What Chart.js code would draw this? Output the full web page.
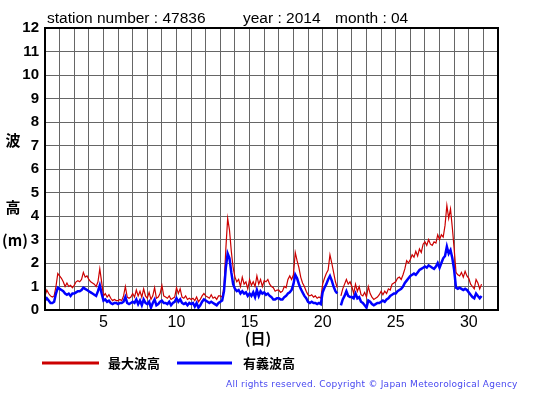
<!DOCTYPE html>
<html>
<head>
<meta charset="utf-8">
<script src="https://cdn.jsdelivr.net/npm/chart.js@4.4.1/dist/chart.umd.min.js"></script>
<style>
  html, body { margin: 0; padding: 0; background: #fff; }
</style>
</head>
<body>
<canvas id="waveChart" width="555" height="395"></canvas>
<script>
// header info
const stationNo = '47836';
const yearStr = '2014';
const monthStr = '04';

// 3-hourly samples, 8 per day, day 1 00h .. day 30 21h
const slotsPerDay = 8;
const dayLabels = [5, 10, 15, 20, 25, 30];
const yTicks = [0, 1, 2, 3, 4, 5, 6, 7, 8, 9, 10, 11, 12];

// 最大波高 (m)
const maxWave = [
  0.6, 0.85, 0.7, 0.6, 0.55, 0.6, 1.0, 1.55,     // 1
  1.45, 1.35, 1.2, 1.0, 1.15, 1.0, 1.05, 0.95,   // 2
  1.05, 1.2, 1.25, 1.2, 1.3, 1.6, 1.4, 1.45,     // 3
  1.3, 1.2, 1.15, 1.1, 1.0, 1.2, 1.75, 1.2,      // 4
  0.6, 0.7, 0.55, 0.65, 0.5, 0.4, 0.45, 0.4,     // 5
  0.4, 0.45, 0.4, 0.6, 1.0, 0.55, 0.5, 0.55,     // 6
  0.7, 0.55, 0.85, 0.6, 0.8, 0.55, 0.9, 0.6,     // 7
  0.5, 0.75, 0.45, 0.6, 0.95, 0.5, 0.55, 0.7,    // 8
  1.05, 0.6, 0.55, 0.5, 0.6, 0.45, 0.5, 0.55,    // 9
  0.95, 0.7, 0.9, 0.55, 0.5, 0.6, 0.45, 0.5,     // 10
  0.45, 0.5, 0.4, 0.55, 0.35, 0.45, 0.6, 0.7,    // 11
  0.6, 0.55, 0.5, 0.65, 0.5, 0.55, 0.45, 0.6,    // 12
  0.6, 0.55, 1.0, 2.6, 3.9, 3.4, 2.5, 1.8,       // 13
  1.4, 1.2, 1.3, 1.0, 1.4, 1.1, 1.2, 0.9,        // 14
  1.3, 1.05, 1.2, 1.0, 1.45, 1.1, 1.3, 1.0,      // 15
  1.25, 1.2, 1.3, 1.1, 1.0, 0.95, 0.8, 0.85,     // 16
  0.85, 0.75, 0.8, 1.0, 0.95, 1.3, 1.45, 1.3,    // 17
  1.5, 2.45, 2.1, 1.8, 1.4, 1.15, 1.0, 0.8,      // 18
  0.65, 0.6, 0.65, 0.55, 0.6, 0.5, 0.55, 0.5,    // 19
  1.1, 1.35, 1.55, 1.7, 2.35, 2.0, 1.6, 1.2,     // 20
  0.95, null, 0.6, 0.9, 1.1, 1.3, 1.1, 1.2,      // 21
  1.0, 0.7, 1.1, 0.8, 1.0, 0.65, 0.6, 0.75,      // 22
  0.55, 1.0, 0.7, 0.55, 0.45, 0.5, 0.55, 0.65,   // 23
  0.8, 0.65, 0.8, 0.7, 0.9, 0.85, 1.1, 1.15,     // 24
  1.2, 1.35, 1.4, 1.3, 1.5, 1.75, 2.1, 2.0,      // 25
  2.15, 2.35, 2.25, 2.5, 2.3, 2.6, 2.45, 2.8,    // 26
  2.9, 2.75, 3.0, 2.8, 2.75, 2.9, 2.85, 3.2,     // 27
  3.0, 3.2, 3.1, 3.6, 4.45, 3.9, 4.3, 3.5,       // 28
  2.6, 1.6, 1.5, 1.45, 1.6, 1.4, 1.65, 1.45,     // 29
  1.35, 1.1, 1.0, 0.9, 1.3, 1.15, 0.9, 1.1       // 30
];

// 有義波高 (m)
const sigWave = [
  0.4, 0.5, 0.4, 0.3, 0.3, 0.35, 0.7, 0.95,      // 1
  0.9, 0.85, 0.8, 0.7, 0.65, 0.7, 0.6, 0.7,      // 2
  0.7, 0.75, 0.8, 0.8, 0.85, 0.95, 0.9, 0.85,    // 3
  0.8, 0.75, 0.7, 0.65, 0.6, 0.8, 1.05, 0.7,     // 4
  0.4, 0.45, 0.35, 0.4, 0.3, 0.25, 0.3, 0.3,     // 5
  0.25, 0.3, 0.3, 0.35, 0.55, 0.3, 0.25, 0.3,    // 6
  0.35, 0.3, 0.45, 0.25, 0.4, 0.2, 0.45, 0.3,    // 7
  0.25, 0.35, 0.1, 0.3, 0.45, 0.2, 0.25, 0.35,   // 8
  0.4, 0.3, 0.3, 0.25, 0.35, 0.2, 0.3, 0.35,     // 9
  0.5, 0.35, 0.45, 0.3, 0.25, 0.3, 0.2, 0.3,     // 10
  0.25, 0.3, 0.15, 0.3, 0.1, 0.2, 0.35, 0.45,    // 11
  0.4, 0.35, 0.3, 0.35, 0.3, 0.25, 0.2, 0.3,     // 12
  0.35, 0.4, 0.8, 1.8, 2.4, 2.2, 1.6, 1.1,       // 13
  0.9, 0.8, 0.85, 0.7, 0.8, 0.7, 0.75, 0.6,      // 14
  0.7, 0.6, 0.75, 0.55, 0.85, 0.6, 0.8, 0.7,     // 15
  0.75, 0.65, 0.7, 0.6, 0.55, 0.45, 0.45, 0.5,   // 16
  0.5, 0.45, 0.45, 0.55, 0.6, 0.7, 0.75, 0.85,   // 17
  1.1, 1.5, 1.35, 1.1, 0.9, 0.75, 0.6, 0.5,      // 18
  0.35, 0.3, 0.35, 0.3, 0.3, 0.25, 0.3, 0.25,    // 19
  0.75, 0.95, 1.1, 1.3, 1.45, 1.25, 1.0, 0.8,    // 20
  0.7, null, 0.2, 0.45, 0.6, 0.8, 0.6, 0.55,     // 21
  0.55, 0.5, 0.7, 0.5, 0.55, 0.35, 0.3, 0.2,     // 22
  0.1, 0.4, 0.35, 0.25, 0.2, 0.25, 0.3, 0.3,     // 23
  0.35, 0.4, 0.35, 0.45, 0.5, 0.6, 0.65, 0.7,    // 24
  0.7, 0.8, 0.85, 0.9, 1.0, 1.15, 1.25, 1.35,    // 25
  1.45, 1.5, 1.55, 1.5, 1.6, 1.7, 1.75, 1.8,     // 26
  1.85, 1.8, 1.9, 1.85, 1.8, 1.75, 1.85, 2.0,    // 27
  1.8, 2.0, 2.2, 2.3, 2.7, 2.4, 2.55, 2.2,       // 28
  1.7, 0.95, 0.9, 0.95, 0.9, 0.85, 0.9, 0.85,    // 29
  0.75, 0.65, 0.55, 0.5, 0.7, 0.6, 0.5, 0.6      // 30
];

const toPoints = arr => arr.map((v, i) => ({ x: 1 + i / slotsPerDay, y: v }));

const RED = '#cc0000';
const BLUE = '#0000ff';
const CJK = '"Noto Sans CJK JP", sans-serif';
const LATIN = '"Liberation Sans", Arial, sans-serif';

// frame, axis titles, header, legend and credit line
const decorations = {
  id: 'decorations',
  afterDraw(chart) {
    const { ctx, chartArea: a } = chart;
    ctx.save();
    ctx.strokeStyle = '#000';
    ctx.lineWidth = 2;
    ctx.strokeRect(a.left, a.top, a.right - a.left, a.bottom - a.top);

    ctx.fillStyle = '#000';
    ctx.textBaseline = 'alphabetic';
    ctx.textAlign = 'left';
    ctx.font = '15.5px ' + LATIN;
    ctx.fillText('station number : ' + stationNo, 47, 23);
    ctx.fillText('year : ' + yearStr, 243, 23);
    ctx.fillText('month : ' + monthStr, 335, 23);

    ctx.textBaseline = 'middle';
    ctx.font = 'bold 15px ' + CJK;
    ctx.textAlign = 'center';
    ctx.fillText('波', 13, 140);
    ctx.fillText('高', 13, 207);
    ctx.fillText('(日)', 258, 338);
    ctx.textAlign = 'left';
    ctx.fillText('(m)', 2, 240);

    // legend
    ctx.lineWidth = 3;
    ctx.strokeStyle = RED;
    ctx.beginPath(); ctx.moveTo(42, 363); ctx.lineTo(99, 363); ctx.stroke();
    ctx.strokeStyle = BLUE;
    ctx.beginPath(); ctx.moveTo(177, 363); ctx.lineTo(232, 363); ctx.stroke();
    ctx.font = 'bold 13px ' + CJK;
    ctx.fillText('最大波高', 108, 363);
    ctx.fillText('有義波高', 243, 363);

    // credit
    const credit = 'All rights reserved. Copyright \u00a9 Japan Meteorological Agency';
    ctx.font = '9px "DejaVu Sans", sans-serif';
    ctx.fillStyle = '#4848f0';
    const w = ctx.measureText(credit).width;
    const extra = (291 - w) / (credit.length - 1);
    let x = 226;
    for (const ch of credit) {
      ctx.fillText(ch, x, 385);
      x += ctx.measureText(ch).width + extra;
    }
    ctx.restore();
  }
};

new Chart(document.getElementById('waveChart').getContext('2d'), {
  type: 'line',
  data: {
    datasets: [
      {
        label: '最大波高',
        data: toPoints(maxWave),
        borderColor: RED,
        borderWidth: 1.2,
        pointRadius: 0,
        tension: 0,
        spanGaps: false,
        order: 1
      },
      {
        label: '有義波高',
        data: toPoints(sigWave),
        borderColor: BLUE,
        borderWidth: 2.5,
        pointRadius: 0,
        tension: 0,
        spanGaps: false,
        order: 0
      }
    ]
  },
  options: {
    responsive: false,
    animation: false,
    layout: { padding: { left: 0, top: 28, right: 57, bottom: 63 } },
    plugins: {
      legend: { display: false },
      tooltip: { enabled: false }
    },
    scales: {
      x: {
        type: 'linear',
        min: 1,
        max: 32,
        afterFit: s => { s.height = 22; },
        grid: { color: '#666', lineWidth: 1, drawTicks: false },
        border: { display: false },
        ticks: {
          stepSize: 1,
          autoSkip: false,
          maxRotation: 0,
          padding: 3,
          color: '#000',
          font: { family: LATIN, size: 16 },
          callback: v => dayLabels.includes(v) ? String(v) : ''
        }
      },
      y: {
        min: 0,
        max: 12,
        afterFit: s => { s.width = 45; },
        grid: { color: '#666', lineWidth: 1, drawTicks: false },
        border: { display: false },
        ticks: {
          stepSize: 1,
          padding: 6,
          color: '#000',
          font: { family: LATIN, size: 15, weight: 'bold' },
          callback: v => yTicks.includes(v) ? String(v) : ''
        }
      }
    }
  },
  plugins: [decorations]
});
</script>
</body>
</html>
